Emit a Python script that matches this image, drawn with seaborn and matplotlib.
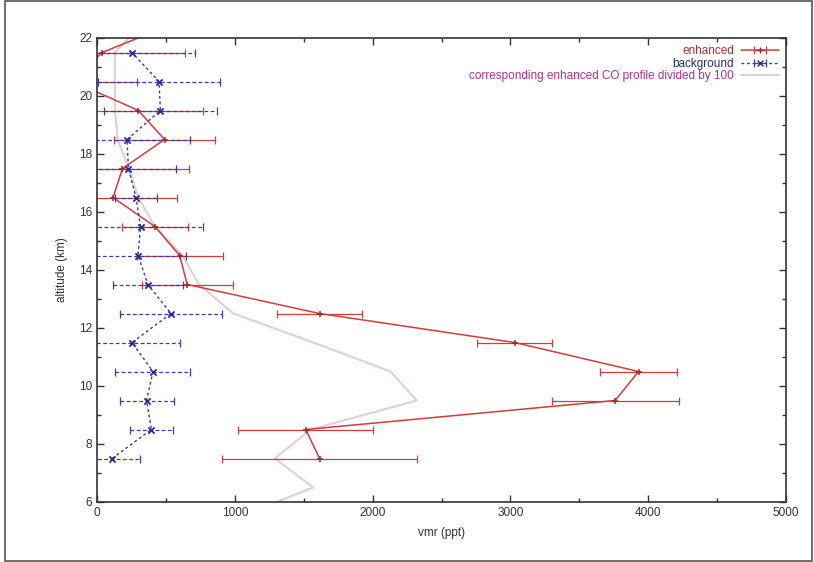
import numpy as np
import pandas as pd
import matplotlib
matplotlib.use("Agg")
import matplotlib.pyplot as plt
from matplotlib.lines import Line2D
from matplotlib.patches import Rectangle
import seaborn as sns

# altitude bins (km)
alt = [7.5, 8.5, 9.5, 10.5, 11.5, 12.5, 13.5, 14.5, 15.5, 16.5, 17.5, 18.5, 19.5, 20.5, 21.5]

# enhanced profile (ppt) and its error; last point sits above the plot top
alt_enh = alt + [22.5]
enhanced = [1615, 1515, 3760, 3930, 3030, 1615, 655, 600, 420, 116, 185, 490, 300, -170, 36, 560]
enhanced_err = [705, 490, 460, 280, 272, 310, 330, 312, 240, 464, 485, 365, 472, 460, 603, 300]

# background profile (ppt) and its error
background = [110, 395, 360, 406, 254, 537, 370, 298, 316, 283, 228, 218, 460, 450, 254]
background_err = [200, 155, 196, 272, 350, 370, 254, 350, 450, 152, 348, 457, 408, 443, 457]

# enhanced CO profile / 100
co_alt = [6.0, 6.5, 7.5, 8.5, 9.5, 10.5, 11.5, 12.5, 13.5, 14.5, 15.5, 16.5, 17.5, 18.5, 19.5, 20.5, 21.5, 22.0]
co_div100 = [1300, 1570, 1290, 1550, 2320, 2130, 1570, 990, 740, 620, 420, 300, 230, 150, 130, 130, 130, 230]

red = "#cf3d3d"
blue = "#3a3aa8"
pink = "#e6ccd6"

sns.set_theme(style="ticks")
plt.rcParams['font.family'] = ['Liberation Sans', 'DejaVu Sans']

fig = plt.figure(figsize=(8.14, 5.62), dpi=100)
ax = fig.add_axes([97 / 814, 1 - 502 / 562, (786 - 97) / 814, (502 - 38) / 562])

enh_df = pd.DataFrame({"vmr": enhanced, "alt": alt_enh})
bg_df = pd.DataFrame({"vmr": background, "alt": alt})
co_df = pd.DataFrame({"vmr": co_div100, "alt": co_alt})

# CO profile drawn first, underneath
sns.lineplot(data=co_df, x="vmr", y="alt", orient="y", sort=False, estimator=None,
             color=pink, linewidth=1.5, ax=ax)

# enhanced
sns.lineplot(data=enh_df, x="vmr", y="alt", orient="y", sort=False, estimator=None,
             color=red, linewidth=1.1, ax=ax)
eb_enh = ax.errorbar(enhanced, alt_enh, xerr=enhanced_err, fmt="none", ecolor=red,
                     elinewidth=0.9, capsize=3, capthick=0.9)
sns.scatterplot(data=enh_df, x="vmr", y="alt", marker="+", s=25, color="#9a2a2a",
                linewidth=1.1, ax=ax, zorder=4)

# background
sns.lineplot(data=bg_df, x="vmr", y="alt", orient="y", sort=False, estimator=None,
             color=blue, linewidth=1.0, linestyle=(0, (2, 2)), ax=ax)
eb_bg = ax.errorbar(background, alt, xerr=background_err, fmt="none", ecolor=blue,
                    elinewidth=0.9, capsize=3, capthick=0.9)
eb_bg[2][0].set_linestyle((0, (3, 2)))
sns.scatterplot(data=bg_df, x="vmr", y="alt", marker="x", s=20, color="#2a2a90",
                linewidth=1.3, ax=ax, zorder=4)

ax.set_xlim(0, 5000)
ax.set_ylim(6, 22)
ax.set_xticks(range(0, 5001, 1000))
ax.set_yticks(range(6, 23, 2))
ax.set_yticks(range(7, 22, 2), minor=True)
ax.set_xticks(range(500, 5000, 1000), minor=True)
ax.tick_params(which="both", direction="in", top=True, right=True,
               labelsize=8.5, colors="#333333", width=1)
ax.tick_params(which="major", length=5)
ax.tick_params(which="minor", length=3)
for s in ax.spines.values():
    s.set_color("#333333")
    s.set_linewidth(1.2)

ax.set_xlabel("vmr (ppt)", fontsize=8.5, color="#333333", labelpad=6)
ax.set_ylabel("altitude (km)", fontsize=8.5, color="#333333", labelpad=8)

h_enh = (eb_enh, Line2D([], [], color=red, lw=1.1, marker="+", markersize=5,
                        markeredgecolor="#9a2a2a"))
h_bg = (eb_bg, Line2D([], [], color=blue, lw=1.0, ls=(0, (2, 2)), marker="x",
                      markersize=4, markeredgecolor="#2a2a90"))
h_co = Line2D([], [], color=pink, lw=1.5)
leg = ax.legend([h_enh, h_bg, h_co],
                ["enhanced", "background", "corresponding enhanced CO profile divided by 100"],
                loc="upper right", frameon=False, markerfirst=False, fontsize=8.5,
                handlelength=3.2, labelspacing=0.05, borderaxespad=0.2, handletextpad=0.6)
for txt, c in zip(leg.get_texts(), ["#a8322f", "#2c2c6e", "#b0308e"]):
    txt.set_color(c)

fig.patches.append(Rectangle((0.006, 0.002), 0.991, 0.996, transform=fig.transFigure,
                             fill=False, edgecolor="#555555", linewidth=1.2))

fig.savefig("out.png", dpi=100)
